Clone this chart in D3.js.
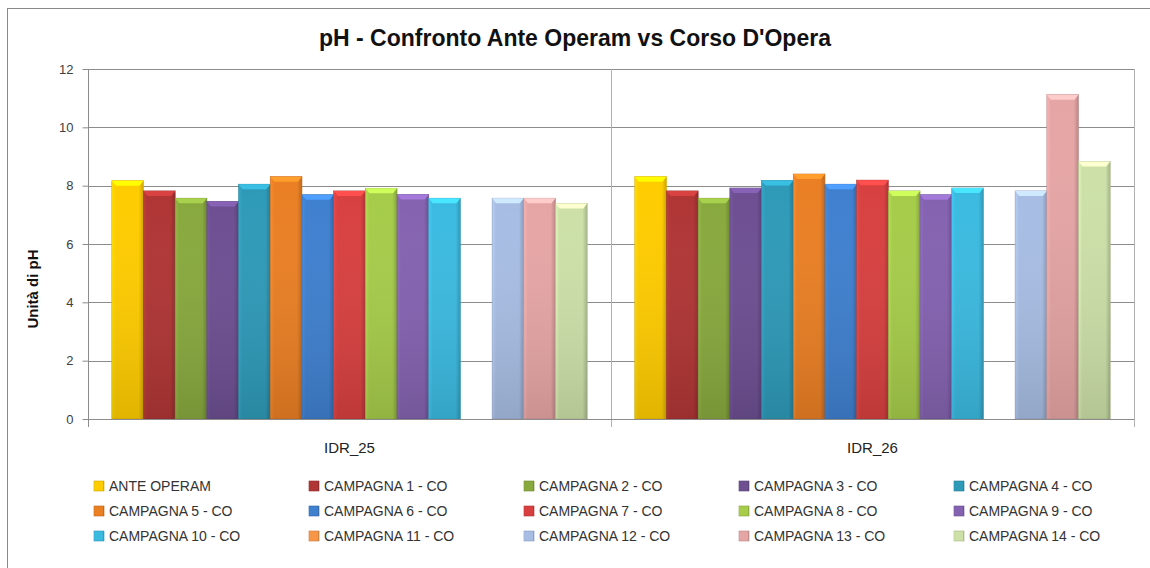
<html>
<head>
<meta charset="utf-8">
<style>
  body { margin: 0; background: #fff; }
  text { font-family: "Liberation Sans", Arial, sans-serif; }
</style>
</head>
<body>
<svg id="mainSvg" width="1150" height="568"></svg>
<script src="https://d3js.org/d3.v7.min.js"></script>
<script>
const categories = ['IDR_25', 'IDR_26']
const seriesNames = ['ANTE OPERAM', 'CAMPAGNA 1 - CO', 'CAMPAGNA 2 - CO', 'CAMPAGNA 3 - CO', 'CAMPAGNA 4 - CO',
  'CAMPAGNA 5 - CO', 'CAMPAGNA 6 - CO', 'CAMPAGNA 7 - CO', 'CAMPAGNA 8 - CO', 'CAMPAGNA 9 - CO',
  'CAMPAGNA 10 - CO', 'CAMPAGNA 11 - CO', 'CAMPAGNA 12 - CO', 'CAMPAGNA 13 - CO', 'CAMPAGNA 14 - CO']
const seriesColors = ['#ffcc00', '#b03535', '#88a93e', '#6d4f92', '#2e9ab8',
  '#ea7f24', '#3f80cf', '#d84040', '#a6cc4a', '#8462b0',
  '#3bbae0', '#f79646', '#a7bde3', '#e6a5a5', '#cce0a8']
const idr25Values = [8.17, 7.82, 7.57, 7.46, 8.05, 8.31, 7.69, 7.82, 7.91, 7.70, 7.57, null, 7.57, 7.57, 7.39]
const idr26Values = [8.31, 7.82, 7.57, 7.92, 8.18, 8.40, 8.05, 8.19, 7.82, 7.69, 7.92, null, 7.82, 11.12, 8.83]
const yTicks = [0, 2, 4, 6, 8, 10, 12]

const svg = d3.select('#mainSvg')
const plot = { left: 88, right: 1134, top: 69, bottom: 419 }

// chart border
svg.append('rect').attr('x', 7.5).attr('y', 8.5).attr('width', 1160).attr('height', 600)
  .attr('fill', 'none').attr('stroke', '#8a8a8a')

const x0 = d3.scaleBand().domain(categories).range([plot.left, plot.right])
const x1 = d3.scaleBand().domain(d3.range(seriesNames.length))
  .range([0, x0.bandwidth()]).paddingInner(0).paddingOuter(0.75)
const y = d3.scaleLinear().domain([0, 12]).range([plot.bottom, plot.top])

// gradients
const defs = svg.append('defs')
seriesColors.forEach((c, i) => {
  const g = defs.append('linearGradient').attr('id', 'grad' + i).attr('x1', 0).attr('x2', 1).attr('y1', 0).attr('y2', 0)
  g.append('stop').attr('offset', '0%').attr('stop-color', d3.color(c).brighter(0.25))
  g.append('stop').attr('offset', '12%').attr('stop-color', c)
  g.append('stop').attr('offset', '85%').attr('stop-color', c)
  g.append('stop').attr('offset', '100%').attr('stop-color', d3.color(c).darker(0.6))
  const v = defs.append('linearGradient').attr('id', 'shade' + i).attr('x1', 0).attr('x2', 0).attr('y1', 0).attr('y2', 1)
  v.append('stop').attr('offset', '0%').attr('stop-color', '#fff').attr('stop-opacity', 0)
  v.append('stop').attr('offset', '100%').attr('stop-color', '#000').attr('stop-opacity', 0.12)
})

// gridlines
svg.append('g').selectAll('line').data(yTicks.filter(d => d > 0)).join('line')
  .attr('x1', plot.left).attr('x2', plot.right)
  .attr('y1', d => Math.round(y(d)) + 0.5).attr('y2', d => Math.round(y(d)) + 0.5)
  .attr('stroke', '#8c8c8c')

// category separators
svg.append('line').attr('x1', x0('IDR_26') + 0.5).attr('x2', x0('IDR_26') + 0.5)
  .attr('y1', plot.top).attr('y2', plot.bottom + 8).attr('stroke', '#b0b0b0')
svg.append('line').attr('x1', plot.right + 0.5).attr('x2', plot.right + 0.5)
  .attr('y1', plot.top).attr('y2', plot.bottom + 8).attr('stroke', '#b0b0b0')

// y axis
const yAxis = svg.append('g').attr('transform', `translate(${plot.left + 0.5},0)`)
  .call(d3.axisLeft(y).tickValues(yTicks).tickSize(6).tickPadding(9))
yAxis.select('.domain').attr('stroke', '#8c8c8c').attr('d', `M0,${plot.top}V${plot.bottom + 8}`)
yAxis.selectAll('.tick line').attr('stroke', '#8c8c8c')
yAxis.selectAll('.tick text').attr('fill', '#404040').style('font-size', '13px')

// bars
const allValues = [idr25Values, idr26Values]
const groups = svg.append('g').selectAll('g').data(categories).join('g')
  .attr('transform', d => `translate(${x0(d)},0)`)
groups.each(function (cat, ci) {
  const g = d3.select(this)
  const rows = allValues[ci].map((v, i) => ({ v, i })).filter(d => d.v != null)
  const bar = g.selectAll('g.bar').data(rows).join('g').attr('class', 'bar')
  bar.append('rect')
    .attr('x', d => x1(d.i)).attr('y', d => y(d.v))
    .attr('width', x1.bandwidth()).attr('height', d => y(0) - y(d.v))
    .attr('fill', d => `url(#grad${d.i})`)
    .attr('stroke', d => d3.color(seriesColors[d.i]).darker(0.5)).attr('stroke-width', 0.6)
  bar.append('rect')
    .attr('x', d => x1(d.i)).attr('y', d => y(d.v))
    .attr('width', x1.bandwidth()).attr('height', d => y(0) - y(d.v))
    .attr('fill', d => `url(#shade${d.i})`)
  // top bevel
  bar.append('path')
    .attr('d', d => {
      const x = x1(d.i), w = x1.bandwidth(), t = y(d.v)
      return `M${x},${t}H${x + w}L${x + w - 4},${t + 5}H${x + 4}Z`
    })
    .attr('fill', d => d3.color(seriesColors[d.i]).brighter(0.6))
})

// x axis line
svg.append('line').attr('x1', plot.left).attr('x2', plot.right)
  .attr('y1', plot.bottom + 0.5).attr('y2', plot.bottom + 0.5).attr('stroke', '#8c8c8c')

// category labels
svg.append('g').selectAll('text').data(categories).join('text')
  .attr('x', d => x0(d) + x0.bandwidth() / 2).attr('y', 453)
  .attr('text-anchor', 'middle').attr('fill', '#222').style('font-size', '15px')
  .text(d => d)

// title
svg.append('text').attr('x', 575).attr('y', 46).attr('text-anchor', 'middle')
  .style('font-size', '23px').style('font-weight', 'bold').attr('fill', '#111')
  .text("pH - Confronto Ante Operam vs Corso D'Opera")

// y label
svg.append('text').attr('transform', 'translate(38,289) rotate(-90)')
  .attr('text-anchor', 'middle').style('font-size', '15px').style('font-weight', 'bold').attr('fill', '#111')
  .text('Unità di pH')

// legend
const legendCols = 5
const legend = svg.append('g').selectAll('g').data(seriesNames).join('g')
  .attr('transform', (d, i) => `translate(${94 + (i % legendCols) * 215},${486 + Math.floor(i / legendCols) * 25})`)
legend.append('rect').attr('x', 0).attr('y', -5).attr('width', 10).attr('height', 10)
  .attr('fill', (d, i) => `url(#grad${i})`)
  .attr('stroke', (d, i) => d3.color(seriesColors[i]).darker(0.6)).attr('stroke-width', 0.6)
legend.append('text').attr('x', 15).attr('y', 5).style('font-size', '14px').attr('fill', '#333')
  .text(d => d)
</script>
</body>
</html>
